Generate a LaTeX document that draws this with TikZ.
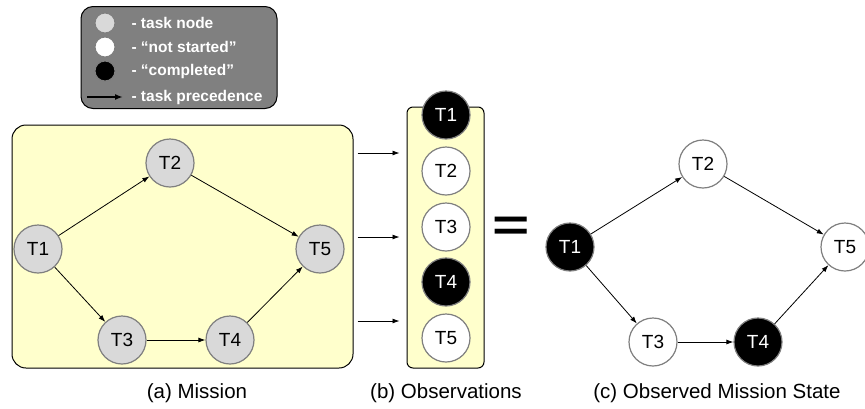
\documentclass[tikz,border=0pt]{standalone}
\usepackage{fontspec}
\setmainfont{Liberation Sans}
\usepackage{xcolor}
\usepackage{tikz}
\usetikzlibrary{arrows, arrows.meta}
\usetikzlibrary{shapes,calc,positioning}

\definecolor{paleyellow}{HTML}{FFFFCC}
\definecolor{taskgray}{HTML}{D9D9D9}
\definecolor{ringgray}{HTML}{7F7F7F}
\definecolor{legendgray}{HTML}{808080}

\begin{document}
\begin{tikzpicture}[
	x=1pt, y=-1pt,
	every node/.style = {font=\fontsize{19}{19}\selectfont},
	task/.style = {shape=circle, draw=ringgray, line width=1.2pt,
	fill=taskgray, minimum size=48pt, inner sep=0pt},
	open/.style = {task, fill=white},
	done/.style = {task, fill=black, text=white},
	prec/.style = {-{Latex[length=7pt,width=5pt]}, line width=0.8pt},
	keytext/.style = {anchor=west, text=white,
	font=\bfseries\fontsize{15.5}{15.5}\selectfont},
	keydot/.style = {shape=circle, draw=ringgray, line width=1pt,
	minimum size=20pt, inner sep=0pt},
	caption/.style = {font=\fontsize{20.5}{20.5}\selectfont}
]
\useasboundingbox (0,0) rectangle (865,408);

% legend
\node[shape=rectangle, rounded corners=12pt, draw=black, line width=1pt,
	fill=legendgray, minimum width=196pt, minimum height=102pt] (legend) at (179,57.5) {};
\node[keydot, fill=taskgray] (k1) at (105,23) {};
\node[keydot, fill=white] (k2) at (105,47) {};
\node[keydot, fill=black] (k3) at (105,71) {};
\coordinate (k4) at (87,97);
\coordinate (k4end) at (123,97);
\draw[-{Latex[length=8pt,width=6pt]}, line width=1.6pt] (k4) -- (k4end);
\node[keytext] at (128,23) {- task node};
\node[keytext] at (128,47) {- “not started”};
\node[keytext] at (128,71) {- “completed”};
\node[keytext] at (128,97) {- task precedence};

% (a) mission
\node[shape=rectangle, rounded corners=14pt, draw=black, line width=1pt,
	fill=paleyellow, minimum width=341pt, minimum height=243pt] (mission) at (182.5,246.5) {};
\node[task] (m1) at (38,249) {T1};
\node[task] (m2) at (170,163) {T2};
\node[task] (m3) at (122,340) {T3};
\node[task] (m4) at (230,340) {T4};
\node[task] (m5) at (320,249) {T5};
\draw[prec] (m1) -- (m2);
\draw[prec] (m2) -- (m5);
\draw[prec] (m1) -- (m3);
\draw[prec] (m3) -- (m4);
\draw[prec] (m4) -- (m5);

% (b) observations
\node[shape=rectangle, rounded corners=6pt, draw=black, line width=1pt,
	fill=paleyellow, minimum width=77pt, minimum height=261pt] (obs) at (445.5,237.5) {};
\node[done] (o1) at (446,115) {T1};
\node[open] (o2) at (446,171) {T2};
\node[open] (o3) at (446,227) {T3};
\node[done] (o4) at (446,282) {T4};
\node[open] (o5) at (446,338) {T5};
\foreach \y in {153,237,321}
	\draw[prec] ([xshift=4pt]mission.east |- 0,\y) -- ([xshift=-7pt]obs.west |- 0,\y);

\node[font=\bfseries\fontsize{45}{45}\selectfont, xscale=1.42] (eq) at (511,229) {=};

% (c) observed mission state
\node[done] (s1) at (570,247) {T1};
\node[open] (s2) at (703,164) {T2};
\node[open] (s3) at (653,342) {T3};
\node[done] (s4) at (758,342) {T4};
\node[open] (s5) at (845,247) {T5};
\draw[prec] (s1) -- (s2);
\draw[prec] (s2) -- (s5);
\draw[prec] (s1) -- (s3);
\draw[prec] (s3) -- (s4);
\draw[prec] (s4) -- (s5);

\node[caption] (capa) at (197,393) {(a) Mission};
\node[caption] (capb) at (446,393) {(b) Observations};
\node[caption] (capc) at (717,393) {(c) Observed Mission State};
\end{tikzpicture}
\end{document}
